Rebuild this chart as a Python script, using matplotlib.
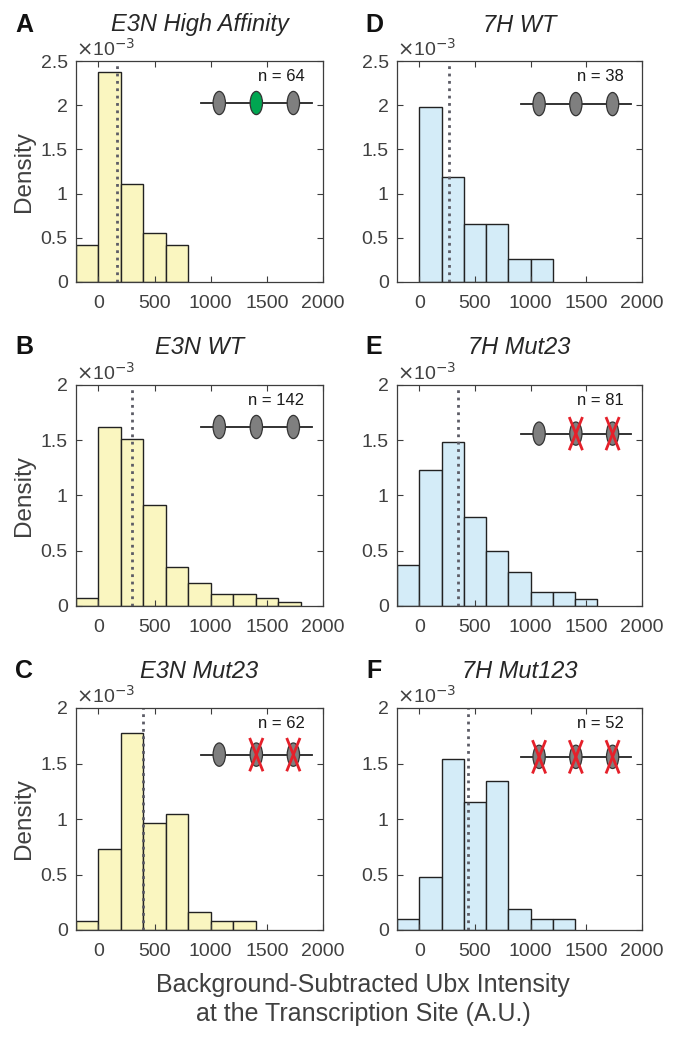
import numpy as np
import matplotlib
matplotlib.use("Agg")
from matplotlib import pyplot as plt
from matplotlib.patches import Ellipse

plt.rcParams["font.family"] = ["Liberation Sans", "DejaVu Sans"]

# histogram data, density in units of 1e-3, bins of width 200
titles = ["E3N High Affinity", "E3N WT", "E3N Mut23", "7H WT", "7H Mut23", "7H Mut123"]
letters = ["A", "B", "C", "D", "E", "F"]
bin_start = [-200, -200, -200, 0, -200, -200]
dens_A = [0.42, 2.37, 1.11, 0.55, 0.42]
dens_B = [0.070, 1.620, 1.514, 0.915, 0.352, 0.211, 0.106, 0.106, 0.070, 0.035]
dens_C = [0.081, 0.726, 1.774, 0.968, 1.048, 0.161, 0.081, 0.081]
dens_D = [1.974, 1.184, 0.658, 0.658, 0.263, 0.263]
dens_E = [0.370, 1.235, 1.481, 0.802, 0.494, 0.309, 0.123, 0.123, 0.062]
dens_F = [0.096, 0.481, 1.538, 1.154, 1.346, 0.192, 0.096, 0.096]
densities = [dens_A, dens_B, dens_C, dens_D, dens_E, dens_F]
medians = [163, 297, 397, 263, 349, 440]
n_counts = [64, 142, 62, 38, 81, 52]
y_max = [2.5, 2, 2, 2.5, 2, 2]
sites = [["wt", "high", "wt"], ["wt", "wt", "wt"], ["wt", "mut", "mut"],
         ["wt", "wt", "wt"], ["wt", "mut", "mut"], ["mut", "mut", "mut"]]
diagram_y = [0.81, 0.81, 0.79, 0.805, 0.78, 0.78]

W, H = 681, 1063
fig = plt.figure(figsize=(W / 100, H / 100), dpi=100)

col_left = [76, 397]
col_width = [247, 245]
row_bottom = [282, 606, 930]
row_top = [61, 385, 708]
letter_y = [25, 347, 671]

axis_col = "#3d3d3d"
label_col = "#404040"

for i in range(6):
    col, row = i // 3, i % 3
    l, w = col_left[col], col_width[col]
    b, t = row_bottom[row], row_top[row]
    ax = fig.add_axes([l / W, 1 - b / H, w / W, (b - t) / H])
    fill = "#faf6c0" if col == 0 else "#d4ecf8"
    d = densities[i]
    edges = bin_start[i] + 200 * np.arange(len(d))
    ax.bar(edges, d, width=200, align="edge", color=fill, edgecolor="#222222", linewidth=1.0)
    ax.axvline(medians[i], color="#5c5c66", linestyle=":", linewidth=2)
    ax.set_xlim(-200, 2000)
    ax.set_ylim(0, y_max[i])
    ax.set_xticks([0, 500, 1000, 1500, 2000])
    yt = np.arange(0, y_max[i] + 0.01, 0.5)
    ax.set_yticks(yt)
    ax.set_yticklabels(["%g" % v for v in yt])
    ax.tick_params(direction="in", length=4, width=0.8, top=True, right=True,
                   labelsize=14, colors=axis_col, labelcolor=label_col, pad=6)
    ax.tick_params(axis="x", pad=9)
    for s in ax.spines.values():
        s.set_color(axis_col)
        s.set_linewidth(0.9)
    ax.text(0.0, 1.005, r"$\times$10$^{-3}$", transform=ax.transAxes, fontsize=14,
            color=label_col, ha="left", va="bottom")
    if col == 0:
        ax.set_ylabel("Density", fontsize=17.5, color=label_col, labelpad=4)

    # n label and binding site diagram
    ax.text(0.925, 0.93, "n = %d" % n_counts[i], transform=ax.transAxes, fontsize=12,
            color="#1a1a1a", ha="right", va="center")
    yd = diagram_y[i]
    ax.plot([0.505, 0.955], [yd, yd], transform=ax.transAxes, color="#222222", lw=1.3, zorder=5)
    for xs, st in zip([0.58, 0.73, 0.88], sites[i]):
        fc = "#00a651" if st == "high" else "#7f7f7f"
        ax.add_patch(Ellipse((xs, yd), 0.05, 0.105, transform=ax.transAxes, facecolor=fc,
                             edgecolor="#333333", lw=0.9, zorder=6))
        if st == "mut":
            dx, dy = 0.027, 0.075
            ax.plot([xs - dx, xs + dx], [yd + dy, yd - dy], transform=ax.transAxes,
                    color="#e5202a", lw=2, zorder=7, solid_capstyle="butt")
            ax.plot([xs - dx, xs + dx], [yd - dy, yd + dy], transform=ax.transAxes,
                    color="#e5202a", lw=2, zorder=7, solid_capstyle="butt")

    fig.text((l + w / 2) / W, 1 - letter_y[row] / H, titles[i], fontsize=17,
             style="italic", color="#262626", ha="center", va="center")
    fig.text((24 if col == 0 else 374) / W, 1 - letter_y[row] / H, letters[i],
             fontsize=18, fontweight="bold", color="#111111", ha="center", va="center")

fig.text(363 / W, 1 - 985 / H, "Background-Subtracted Ubx Intensity", fontsize=18,
         color=label_col, ha="center", va="center")
fig.text(363 / W, 1 - 1014 / H, "at the Transcription Site (A.U.)", fontsize=18,
         color=label_col, ha="center", va="center")

fig.savefig("out.png", dpi=100)
